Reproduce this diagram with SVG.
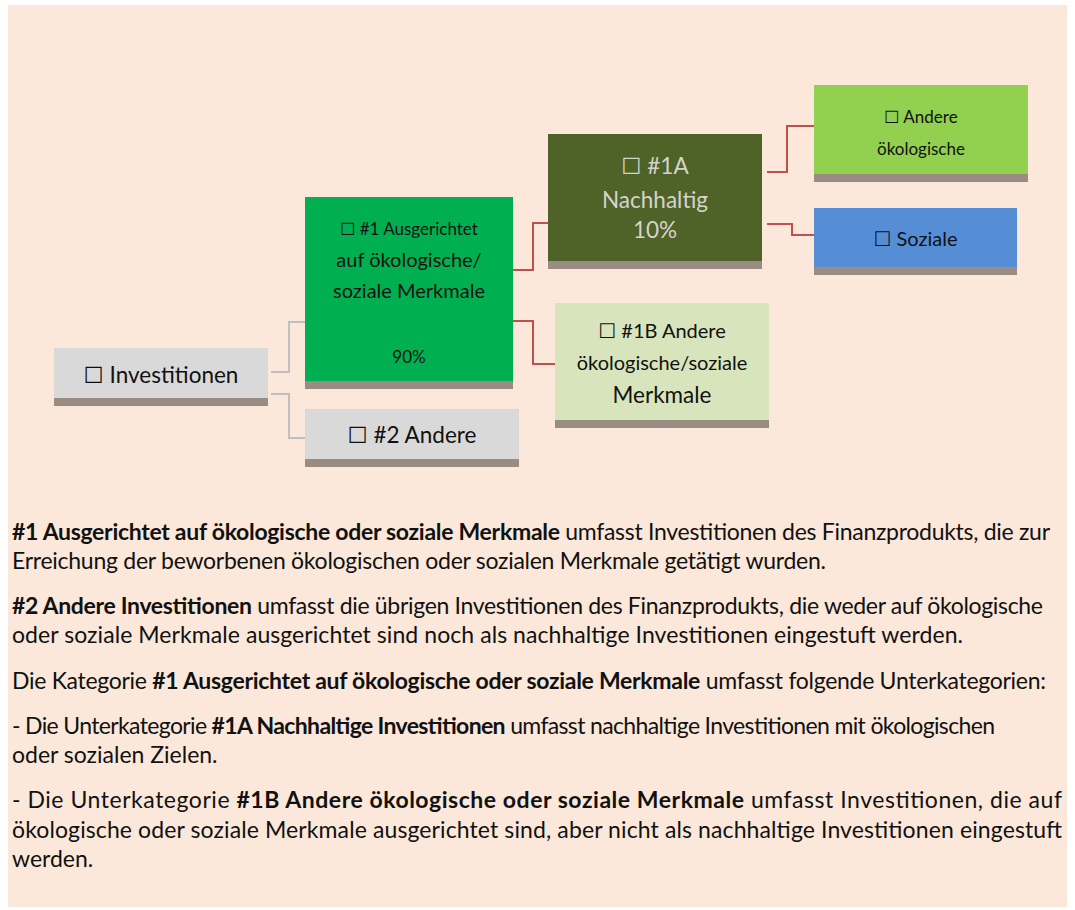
<svg xmlns="http://www.w3.org/2000/svg" width="1075" height="910" viewBox="0 0 1075 910">
<style>
.t{font-family:Lato,"DejaVu Sans",sans-serif;fill:#111;}
.c{text-anchor:middle;}
.b{font-weight:bold;}
.sh{fill:#9a8c82;}
.gc{fill:none;stroke:#bfbfbf;stroke-width:2;}
.rc{fill:none;stroke:#c0504d;stroke-width:2;}
.body{font-size:23px;}
</style>
<rect x="0" y="0" width="1075" height="910" fill="#ffffff"/>
<rect x="8" y="5" width="1059" height="902" fill="#fbe8da"/>
<g id="connectors">
<path class="gc" d="M271,372 H289 V322 H307"/>
<path class="gc" d="M271,394 H289 V438 H307"/>
<path class="rc" d="M513,270 H533 V223 H548"/>
<path class="rc" d="M513,321 H533 V364 H555"/>
<path class="rc" d="M767,172 H787 V126 H814"/>
<path class="rc" d="M767,224 H792 V235 H814"/>
</g>
<g id="node-investitionen">
<rect x="54" y="348" width="214" height="50" fill="#d9d9d9"/>
<rect class="sh" x="54" y="398" width="214" height="8"/>
<text class="t c" x="161" y="383" font-size="22.5">☐ Investitionen</text>
</g>
<g id="node-1">
<rect x="305" y="197" width="208" height="184" fill="#00b050"/>
<rect class="sh" x="305" y="381" width="208" height="8"/>
<text class="t c" x="409" y="235" font-size="17">☐ #1 Ausgerichtet</text>
<text class="t c" x="409" y="267" font-size="20">auf ökologische/</text>
<text class="t c" x="409" y="298" font-size="20">soziale Merkmale</text>
<text class="t c" x="409" y="363" font-size="17">90%</text>
</g>
<g id="node-2">
<rect x="305" y="409" width="214" height="50" fill="#d9d9d9"/>
<rect class="sh" x="305" y="459" width="214" height="8"/>
<text class="t c" x="412" y="443" font-size="22.5">☐ #2 Andere</text>
</g>
<g id="node-1a">
<rect x="548" y="134" width="214" height="127" fill="#4f6228"/>
<rect class="sh" x="548" y="261" width="214" height="8"/>
<text class="t c" x="655" y="174" font-size="22.5" style="fill:#d4d4cc">☐ #1A</text>
<text class="t c" x="655" y="208" font-size="22.5" style="fill:#d4d4cc">Nachhaltig</text>
<text class="t c" x="655" y="238" font-size="22.5" style="fill:#d4d4cc">10%</text>
</g>
<g id="node-1b">
<rect x="555" y="303" width="214" height="117" fill="#d7e4bc"/>
<rect class="sh" x="555" y="420" width="214" height="8"/>
<text class="t c" x="662" y="338" font-size="20">☐ #1B Andere</text>
<text class="t c" x="662" y="370" font-size="20">ökologische/soziale</text>
<text class="t c" x="662" y="403" font-size="22.5">Merkmale</text>
</g>
<g id="node-andere-oekologische">
<rect x="814" y="85" width="214" height="89" fill="#92d050"/>
<rect class="sh" x="814" y="174" width="214" height="8"/>
<text class="t c" x="921" y="123" font-size="17">☐ Andere</text>
<text class="t c" x="921" y="155" font-size="17">ökologische</text>
</g>
<g id="node-soziale">
<rect x="814" y="208" width="203" height="59" fill="#558ed5"/>
<rect class="sh" x="814" y="267" width="203" height="8"/>
<text class="t c" x="915.5" y="246" font-size="20">☐ Soziale</text>
</g>
<g id="legend-text" class="t body">
<text x="12" y="540" textLength="1038" lengthAdjust="spacing"><tspan class="b">#1 Ausgerichtet auf ökologische oder soziale Merkmale</tspan> umfasst Investitionen des Finanzprodukts, die zur</text>
<text x="12" y="569" textLength="814" lengthAdjust="spacing">Erreichung der beworbenen ökologischen oder sozialen Merkmale getätigt wurden.</text>
<text x="12" y="614" textLength="1031" lengthAdjust="spacing"><tspan class="b">#2 Andere Investitionen</tspan> umfasst die übrigen Investitionen des Finanzprodukts, die weder auf ökologische</text>
<text x="12" y="643" textLength="951" lengthAdjust="spacing">oder soziale Merkmale ausgerichtet sind noch als nachhaltige Investitionen eingestuft werden.</text>
<text x="12" y="689" textLength="1034" lengthAdjust="spacing">Die Kategorie <tspan class="b">#1 Ausgerichtet auf ökologische oder soziale Merkmale</tspan> umfasst folgende Unterkategorien:</text>
<text x="12" y="734" textLength="983" lengthAdjust="spacing">- Die Unterkategorie <tspan class="b">#1A Nachhaltige Investitionen</tspan> umfasst nachhaltige Investitionen mit ökologischen</text>
<text x="12" y="763">oder sozialen Zielen.</text>
<text x="12" y="808" textLength="1050" lengthAdjust="spacing">- Die Unterkategorie <tspan class="b">#1B Andere ökologische oder soziale Merkmale</tspan> umfasst Investitionen, die auf</text>
<text x="12" y="838" textLength="1050" lengthAdjust="spacing">ökologische oder soziale Merkmale ausgerichtet sind, aber nicht als nachhaltige Investitionen eingestuft</text>
<text x="12" y="867">werden.</text>
</g>
</svg>
